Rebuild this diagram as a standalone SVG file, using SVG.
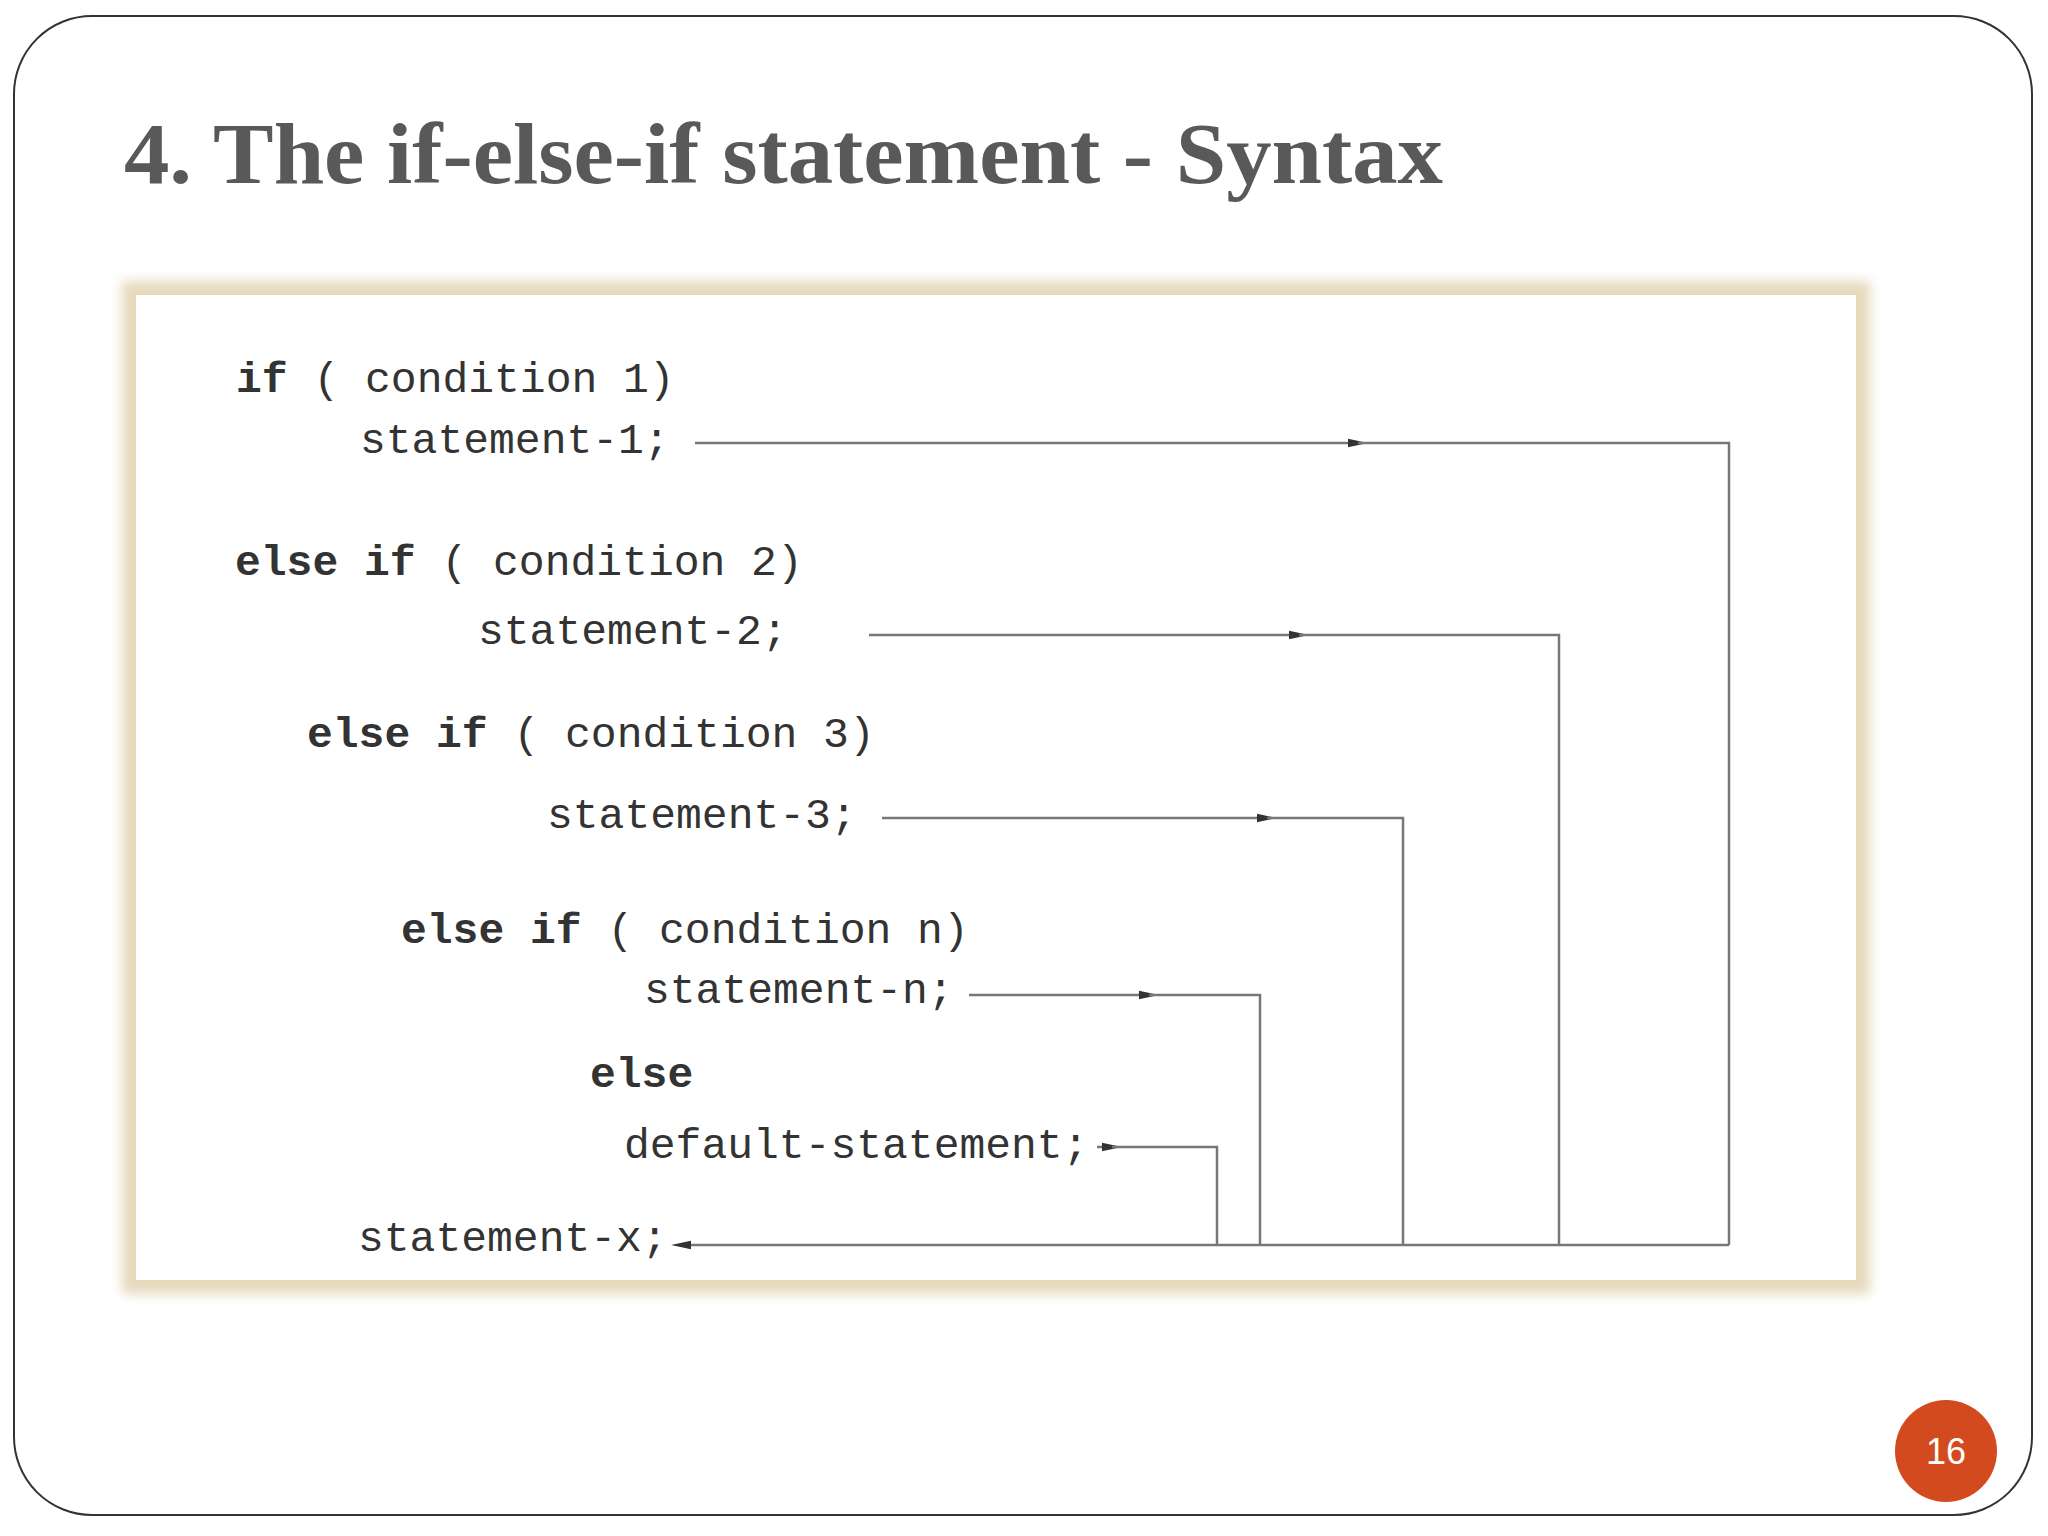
<svg xmlns="http://www.w3.org/2000/svg" width="2048" height="1536" viewBox="0 0 2048 1536">
<defs>
<style>
.code{font-family:"Liberation Mono","DejaVu Sans Mono",monospace;font-size:43px;fill:#333;}
.kw{font-weight:bold;}
.ln{stroke:#777;stroke-width:2.5;fill:none;}
</style>
<marker id="ar" viewBox="0 0 10 10" refX="5" refY="5" markerWidth="20" markerHeight="14" orient="auto-start-reverse" markerUnits="userSpaceOnUse" preserveAspectRatio="none"><path d="M0,2 L10,5 L0,8 z" fill="#333"/></marker>
<filter id="sh" x="-5%" y="-5%" width="110%" height="110%"><feGaussianBlur stdDeviation="6"/></filter>
</defs>
<rect width="2048" height="1536" fill="#fff"/>
<rect x="14" y="16" width="2018" height="1499" rx="78" fill="#fff" stroke="#333" stroke-width="2"/>
<text x="124" y="183" font-family="Liberation Serif,serif" font-weight="bold" font-size="86" fill="#595959" textLength="1319" lengthAdjust="spacingAndGlyphs">4. The if-else-if statement - Syntax</text>
<rect x="122" y="281" width="1748" height="1013" fill="#e6d9bc" filter="url(#sh)"/>
<rect x="136" y="295" width="1720" height="985" fill="#fff"/>
<g id="code" class="code" xml:space="preserve">
<text x="236" y="392"><tspan class="kw">if</tspan> ( condition 1)</text>
<text x="360" y="453">statement-1;</text>
<text x="235" y="575"><tspan class="kw">else if</tspan> ( condition 2)</text>
<text x="478" y="644">statement-2;</text>
<text x="307" y="747"><tspan class="kw">else if</tspan> ( condition 3)</text>
<text x="547" y="828">statement-3;</text>
<text x="401" y="943"><tspan class="kw">else if</tspan> ( condition n)</text>
<text x="644" y="1003">statement-n;</text>
<text x="590" y="1087" class="kw">else</text>
<text x="624" y="1158">default-statement;</text>
<text x="358" y="1251">statement-x;</text>
</g>
<g id="connectors">
<path class="ln" d="M695,443 H1358" marker-end="url(#ar)"/><path class="ln" d="M1358,443 H1729 V1245"/>
<path class="ln" d="M869,635 H1299" marker-end="url(#ar)"/><path class="ln" d="M1299,635 H1559 V1245"/>
<path class="ln" d="M882,818 H1267" marker-end="url(#ar)"/><path class="ln" d="M1267,818 H1403 V1245"/>
<path class="ln" d="M969,995 H1149" marker-end="url(#ar)"/><path class="ln" d="M1149,995 H1260 V1245"/>
<path class="ln" d="M1097,1147 H1112" marker-end="url(#ar)"/><path class="ln" d="M1112,1147 H1217 V1245"/>
<path class="ln" d="M1729,1245 H681" marker-end="url(#ar)"/>
</g>
<g id="page">
<circle cx="1946" cy="1451" r="51" fill="#d24a1e"/>
<text x="1946" y="1464" text-anchor="middle" font-family="Liberation Sans,sans-serif" font-size="36" fill="#fff">16</text>
</g>
</svg>
